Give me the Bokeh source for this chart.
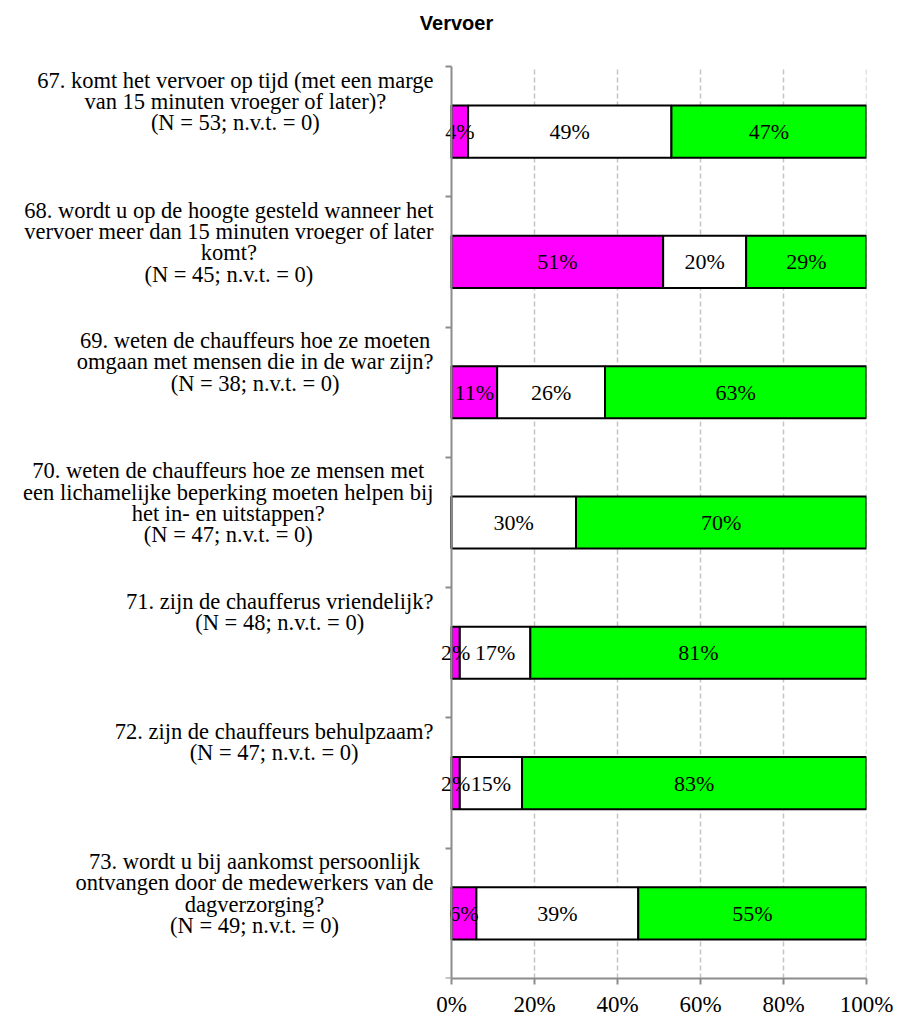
from bokeh.plotting import figure
from bokeh.models import (ColumnDataSource, LinearAxis, FixedTicker,
                          PrintfTickFormatter, Range1d)
from bokeh.core.properties import value
from bokeh.embed import file_html
from bokeh.resources import INLINE

# ---------------- data ----------------
title = "Vervoer"
keys = ["67", "68", "69", "70", "71", "72", "73"]
questions = [
    "67. komt het vervoer op tijd (met een marge\nvan 15 minuten vroeger of later)?",
    "68. wordt u op de hoogte gesteld wanneer het\nvervoer meer dan 15 minuten vroeger of later\nkomt?",
    "69. weten de chauffeurs hoe ze moeten\nomgaan met mensen die in de war zijn?",
    "70. weten de chauffeurs hoe ze mensen met\neen lichamelijke beperking moeten helpen bij\nhet in- en uitstappen?",
    "71. zijn de chaufferus vriendelijk?",
    "72. zijn de chauffeurs behulpzaam?",
    "73. wordt u bij aankomst persoonlijk\nontvangen door de medewerkers van de\ndagverzorging?",
]
n_resp = [53, 45, 38, 47, 48, 47, 49]
n_vt = [0, 0, 0, 0, 0, 0, 0]
neg = [4, 51, 11, 0, 2, 2, 6]
neutral = [49, 20, 26, 30, 17, 15, 39]
pos = [47, 29, 63, 70, 81, 83, 55]
x_ticks = [0, 20, 40, 60, 80, 100]

colors = ["#FF00FF", "#FFFFFF", "#00FF00"]
SERIF = "Liberation Serif"
n = len(keys)

# ---------------- layout (pixels) ----------------
W, H = 899, 1020
FRAME_L, FRAME_R, FRAME_B = 12, 866, 978
PLOT_T = 66                        # top of the category area
ZERO_PX = 451                      # where 0 % sits
px_per_unit = (FRAME_R - ZERO_PX) / 100.0
x_start = -(ZERO_PX - FRAME_L) / px_per_unit
band_px = (FRAME_B - PLOT_T) / n
y_end = n + PLOT_T / band_px       # room above the categories for the title

p = figure(width=W, height=H, x_range=Range1d(x_start, 100),
           y_range=Range1d(0, y_end),
           output_backend="svg", toolbar_location=None,
           y_axis_location=None,
           min_border_left=FRAME_L, min_border_right=W - FRAME_R,
           min_border_top=0, min_border_bottom=H - FRAME_B)
p.outline_line_color = None
p.background_fill_color = "white"

# bottom axis
p.xaxis.ticker = FixedTicker(ticks=x_ticks)
p.xaxis.bounds = (0, 100)
p.xaxis.formatter = PrintfTickFormatter(format="%d%%")
p.xaxis.axis_line_color = "#8c8c8c"
p.xaxis.axis_line_width = 2
p.xaxis.major_tick_line_color = "#8c8c8c"
p.xaxis.major_tick_line_width = 2
p.xaxis.major_tick_out = 6
p.xaxis.major_tick_in = 0
p.xaxis.minor_tick_line_color = None
p.xaxis.major_label_text_font = SERIF
p.xaxis.major_label_text_font_size = "23px"
p.xaxis.major_label_text_color = "black"
p.xaxis.major_label_standoff = 7

# left axis at 0 % with ticks at category boundaries (no tick labels)
bounds_ticks = list(range(n + 1))
left_axis = LinearAxis(ticker=FixedTicker(ticks=bounds_ticks),
                       fixed_location=0, bounds=(0, n),
                       major_label_overrides={t: "" for t in bounds_ticks},
                       axis_line_color="#8c8c8c", axis_line_width=2,
                       major_tick_line_color="#8c8c8c", major_tick_line_width=2,
                       major_tick_out=6, major_tick_in=0,
                       minor_tick_line_color=None, major_label_standoff=0)
p.add_layout(left_axis, "left")

# dashed vertical gridlines limited to the category area
p.xgrid.visible = False
p.ygrid.visible = False
gx = x_ticks[1:]
p.segment(x0=gx, y0=[0] * len(gx), x1=gx, y1=[n] * len(gx),
          line_color="#c4c4c4", line_dash="5 3", line_width=1.5)

# bars (first question on top)
ypos = [n - i - 0.5 for i in range(n)]
neu_end = [a + b for a, b in zip(neg, neutral)]
pos_end = [a + b for a, b in zip(neu_end, pos)]
src = ColumnDataSource(dict(y=ypos, neg_end=neg, neu_end=neu_end, pos_end=pos_end))
p.hbar(y="y", left=0, right="neg_end", height=0.4, source=src,
       fill_color=colors[0], line_color="black", line_width=2)
p.hbar(y="y", left="neg_end", right="neu_end", height=0.4, source=src,
       fill_color=colors[1], line_color="black", line_width=2)
p.hbar(y="y", left="neu_end", right="pos_end", height=0.4, source=src,
       fill_color=colors[2], line_color="black", line_width=2)

# percentage labels
lx, ly, lt = [], [], []
for i in range(n):
    start = 0
    for v in (neg[i], neutral[i], pos[i]):
        if v > 0:
            lx.append(start + v / 2)
            ly.append(ypos[i])
            lt.append(f"{v}%")
        start += v
lsrc = ColumnDataSource(dict(x=lx, y=ly, t=lt))
p.text(x="x", y="y", text="t", source=lsrc,
       text_align="center", text_baseline="middle",
       text_font=value(SERIF), text_font_size="22px", text_color="black")

# category labels (top of each category band, centred lines, right edge left of axis)
ct = [f"{questions[i]}\n(N = {n_resp[i]}; n.v.t. = {n_vt[i]})" for i in range(n)]
csrc = ColumnDataSource(dict(x=[0] * n, y=[n - i for i in range(n)], t=ct))
p.text(x="x", y="y", text="t", source=csrc, x_offset=-18, y_offset=1,
       anchor="top_right", text_align="center",
       text_font=value(SERIF), text_font_size="22.5px",
       text_line_height=0.85, text_color="black")

# title, centred over the whole chart
p.text(x=[0], y=[n], text=[title], x_offset=5, y_offset=-44,
       text_align="center", text_baseline="middle",
       text_font=value("Liberation Sans"), text_font_style="bold",
       text_font_size="20px", text_color="black")

open("out.html", "w").write(file_html(p, INLINE))
